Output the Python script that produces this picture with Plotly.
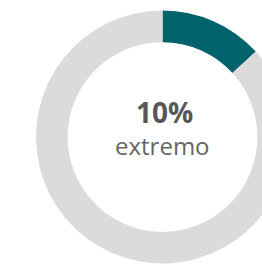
import plotly.graph_objects as go

labels = ["extremo", "resto"]
values = [13.2, 86.8]
center_value = "10%"
center_label = "extremo"

W, H = 290, 280
cx, cy, R = 162.5, 137.0, 126.5

fig = go.Figure(go.Pie(
    labels=labels,
    values=values,
    hole=0.75,
    sort=False,
    direction="clockwise",
    rotation=0,
    marker=dict(colors=["#00626a", "#dbdbdb"], line=dict(width=0)),
    textinfo="none",
    hoverinfo="none",
    showlegend=False,
    domain=dict(x=[(cx - R) / W, (cx + R) / W], y=[(H - cy - R) / H, (H - cy + R) / H]),
))

fig.add_annotation(x=cx / W + 0.008, y=(H - 111.5) / H, xref="paper", yref="paper",
                   text=f"<b>{center_value}</b>", showarrow=False,
                   font=dict(family="Open Sans", size=28, color="#575757"),
                   xanchor="center", yanchor="middle")
fig.add_annotation(x=cx / W, y=(H - 146) / H, xref="paper", yref="paper",
                   text=center_label, showarrow=False,
                   font=dict(family="Open Sans", size=24, color="#666666"),
                   xanchor="center", yanchor="middle")

fig.update_layout(width=W, height=H, margin=dict(l=0, r=0, t=0, b=0),
                  paper_bgcolor="white", plot_bgcolor="white")

fig.write_html("out.html", config={"displayModeBar": False},
               post_script="document.body.style.margin='0';document.body.style.overflow='hidden';document.documentElement.style.overflow='hidden';")
